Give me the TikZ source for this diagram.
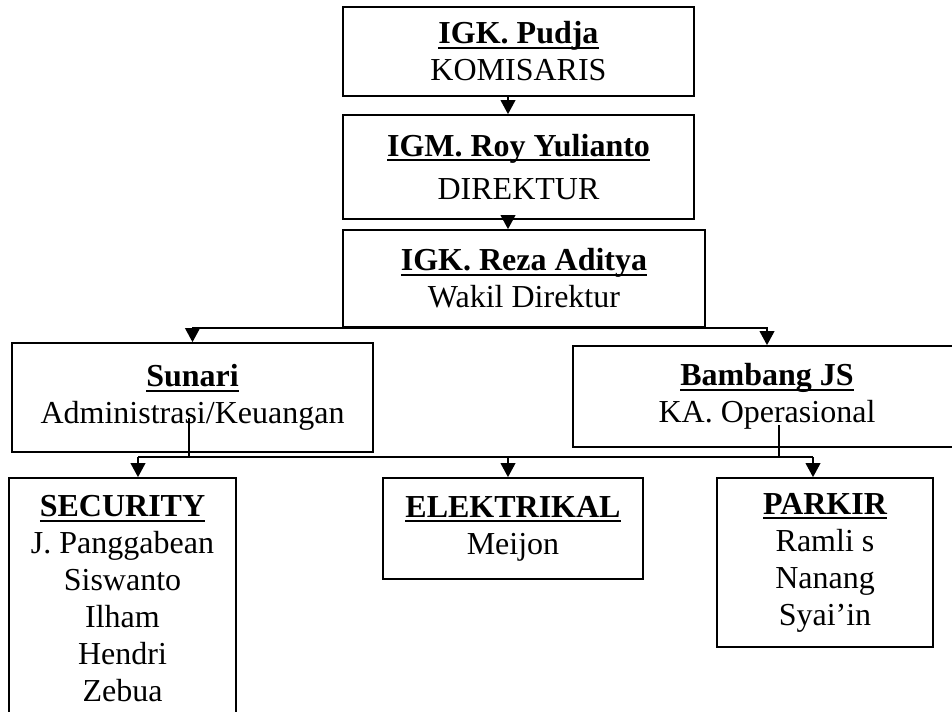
\documentclass[tikz,border=0pt]{standalone}
\usepackage{fontspec}
\setmainfont{Liberation Serif}
\usetikzlibrary{arrows.meta}
\newcommand{\headname}[1]{\setbox0=\hbox{\bfseries #1}\rlap{\rule[-0.16em]{\wd0}{0.07em}}\box0}
\begin{document}
\begin{tikzpicture}[x=0.75pt, y=-0.75pt,
  box/.style={draw, line width=1.3pt, align=center, inner sep=0pt, font=\fontsize{24}{27.75}\selectfont},
  link/.style={line width=1.3pt, -{Triangle[width=11pt,length=10.5pt]}}]
\useasboundingbox (0,0) rectangle (952,711);
\node (pudja)[box, minimum width=263.25pt, minimum height=66.75pt] at (518.5, 51.5) {\headname{IGK. Pudja}\\KOMISARIS};
\node (roy)[box, minimum width=263.25pt, minimum height=78pt] at (518.5, 167) {\headname{IGM. Roy Yulianto}\\[5pt]DIREKTUR};
\node (reza)[box, minimum width=271.5pt, minimum height=72.75pt] at (524, 278.5) {\headname{IGK. Reza Aditya}\\Wakil Direktur};
\node (sunari)[box, minimum width=270.75pt, minimum height=81.75pt] at (192.5, 397.5) {\headname{Sunari}\\Administrasi/Keuangan};
\node (bambang)[box, minimum width=291pt, minimum height=75.75pt] at (767, 396.5) {\headname{Bambang JS}\\KA. Operasional};
\node (security)[box, minimum width=170.25pt, minimum height=181.5pt] at (122.5, 599) {\headname{SECURITY}\\J. Panggabean\\Siswanto\\Ilham\\Hendri\\Zebua};
\node (elektrikal)[box, minimum width=195pt, minimum height=75.75pt] at (513, 528.5) {\headname{ELEKTRIKAL}\\Meijon};
\node (parkir)[box, minimum width=162pt, minimum height=126.75pt] at (825, 562.5) {\headname{PARKIR}\\Ramli s\\Nanang\\Syai’in};
\coordinate (spine) at (508, 0);
\coordinate (lbus) at (138, 457);
\coordinate (rbus) at (813, 457);
\draw[link] (spine |- pudja.south) -- (spine |- roy.north);
\draw[link] (spine |- roy.south) -- (spine |- reza.north);
\draw[link] (reza.south) -| (sunari.north);
\draw[link] (reza.south) -| (bambang.north);
\draw[line width=1.3pt] ([shift={(-2.6pt,-15.4pt)}]sunari.center) -- ([xshift=-2.6pt]sunari.center |- lbus);
\draw[line width=1.3pt] ([shift={(9pt,-21.4pt)}]bambang.center) -- ([xshift=9pt]bambang.center |- rbus);
\draw[line width=1.3pt] (lbus) -- (rbus);
\draw[link] (lbus) -- (lbus |- security.north);
\draw[link] (spine |- lbus) -- (spine |- elektrikal.north);
\draw[link] (rbus) -- (rbus |- parkir.north);
\end{tikzpicture}
\end{document}
